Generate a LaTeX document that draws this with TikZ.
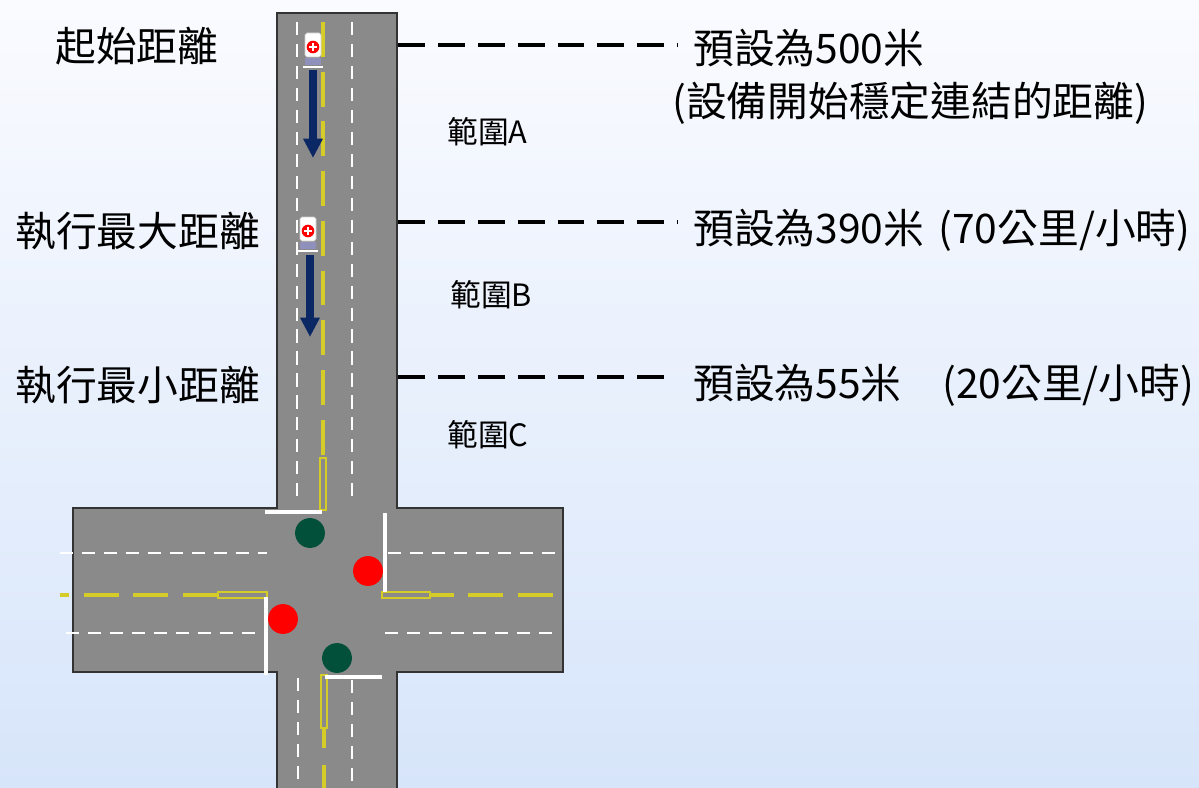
\documentclass[tikz,border=0pt]{standalone}
\usepackage{fontspec}
\setmainfont{Noto Sans CJK TC}
\usetikzlibrary{arrows.meta}

\definecolor{roadgray}{RGB}{138,138,138}
\definecolor{laneyellow}{RGB}{214,204,40}
\definecolor{godark}{RGB}{2,80,58}
\definecolor{stopred}{RGB}{255,0,0}
\definecolor{navy}{RGB}{12,40,100}
\definecolor{bgtop}{RGB}{250,251,255}
\definecolor{bgbottom}{RGB}{215,229,250}

% small ambulance seen from above, centred on the red badge
\newcommand{\ambulance}[2]{%
  \begin{scope}[shift={(#1,#2)}]
    \draw[fill=white,draw=gray!40,rounded corners=1pt] (-8,-14) rectangle (8,10);
    \fill[red] (0,0) circle [radius=3.6pt];
    \fill[white] (-3.8,-1.3) rectangle (3.8,1.3);
    \fill[white] (-1.3,-3.8) rectangle (1.3,3.8);
    \fill[blue!25!gray!70] (-8,11) rectangle (8,18);
    \draw[white,line width=1.2pt] (-10,20) -- (10,20);
  \end{scope}}

\begin{document}
\begin{tikzpicture}[x=0.02cm,y=-0.02cm,
    edge/.style={draw=black!80,line width=0.8pt},
    whitelane/.style={white,line width=1.1pt,dash pattern=on 7.5pt off 5pt},
    yellowlane/.style={laneyellow,line width=2.4pt,dash pattern=on 19.8pt off 8.5pt},
    doubleyellow/.style={draw=laneyellow,line width=0.9pt},
    stopline/.style={white,line width=2.3pt},
    light/.style={circle,minimum size=17pt,inner sep=0pt},
    leader/.style={black,line width=2.2pt,dash pattern=on 15.3pt off 7.4pt},
    move/.style={navy,line width=4pt,-{Triangle[width=10.5pt,length=11pt]}},
    bigtext/.style={font=\fontsize{23.2}{28}\selectfont,inner sep=0pt,anchor=west},
    zonetext/.style={font=\fontsize{17.5}{20}\selectfont,inner sep=0pt,anchor=west}]

  \shade[top color=bgtop,bottom color=bgbottom] (0,0) rectangle (1199,787);
  \clip (0,0) rectangle (1199,787);

  % road surface
  \fill[roadgray] (277,13) -- (397,13) -- (397,508) -- (563,508) -- (563,672)
    -- (397,672) -- (397,800) -- (277,800) -- (277,672) -- (73,672) -- (73,508)
    -- (277,508) -- cycle;
  \draw[edge] (277,800) -- (277,672) -- (73,672) -- (73,508) -- (277,508)
    -- (277,13) -- (397,13) -- (397,508) -- (563,508) -- (563,672) -- (397,672)
    -- (397,800);

  % north leg
  \draw[whitelane] (297,22) -- (297,500);
  \draw[whitelane] (352,22) -- (352,500);
  \draw[yellowlane] (323,22) -- (323,458);
  \draw[doubleyellow] (320,458) rectangle (326,510);

  % west leg
  \draw[whitelane] (60,553) -- (267,553);
  \draw[whitelane] (66,633) -- (260,633);
  \draw[yellowlane] (218,595) -- (60,595);
  \draw[doubleyellow] (218,592) rectangle (267,598);

  % east leg
  \draw[whitelane] (388,553) -- (555,553);
  \draw[whitelane] (385,633) -- (555,633);
  \draw[yellowlane] (553,595) -- (430,595);
  \draw[doubleyellow] (382,592) rectangle (430,598);

  % south leg
  \draw[whitelane] (298,678) -- (298,800);
  \draw[whitelane] (352,680) -- (352,800);
  \draw[doubleyellow] (321,675) rectangle (327,728);
  \draw[laneyellow,line width=2.4pt,dash pattern=on 11.3pt off 9.6pt on 19.8pt off 8.5pt]
    (324,728) -- (324,800);

  % stop lines
  \draw[stopline] (265,512) -- (322,512);
  \draw[stopline] (385,513) -- (385,592);
  \draw[stopline] (266,597) -- (266,675);
  \draw[stopline] (325,677) -- (382,677);

  % signals
  \node[light,fill=godark] (lightN) at (310,533) {};
  \node[light,fill=stopred] (lightE) at (368,571) {};
  \node[light,fill=stopred] (lightW) at (283,619) {};
  \node[light,fill=godark] (lightS) at (337,658) {};

  % vehicles approaching
  \ambulance{313}{47}
  \ambulance{308}{231}
  \coordinate (carA) at (313,70);
  \coordinate (stopA) at (313,158);
  \coordinate (carB) at (310,255);
  \coordinate (stopB) at (310,337);
  \draw[move] (carA) -- (stopA);
  \draw[move] (carB) -- (stopB);

  % labels
  \node[bigtext] (start) at (55,46) {起始距離};
  \node[bigtext] (maxdist) at (15,231) {執行最大距離};
  \node[bigtext] (mindist) at (15,385) {執行最小距離};
  \node[bigtext] (setA) at (693,48) {預設為500米};
  \node[bigtext] (noteA) at (672,103) {(設備開始穩定連結的距離)};
  \node[bigtext] (setB) at (693,230) {預設為390米\hspace{0.35em}(70公里/小時)};
  \node[bigtext] (setC) at (693,385) {預設為55米\hspace{1em}(20公里/小時)};
  \node[zonetext] (zoneA) at (447,132) {範圍A};
  \node[zonetext] (zoneB) at (450,295) {範圍B};
  \node[zonetext] (zoneC) at (447,435) {範圍C};

  % distance marks
  \coordinate (edgeA) at (398,45);
  \coordinate (edgeB) at (398,222);
  \coordinate (edgeC) at (398,377);
  \draw[leader,shorten >=8.5pt] (edgeA) -- (edgeA -| setA.west);
  \draw[leader,shorten >=8.5pt] (edgeB) -- (edgeB -| setB.west);
  \draw[leader,shorten >=14pt] (edgeC) -- (edgeC -| setC.west);
\end{tikzpicture}
\end{document}
